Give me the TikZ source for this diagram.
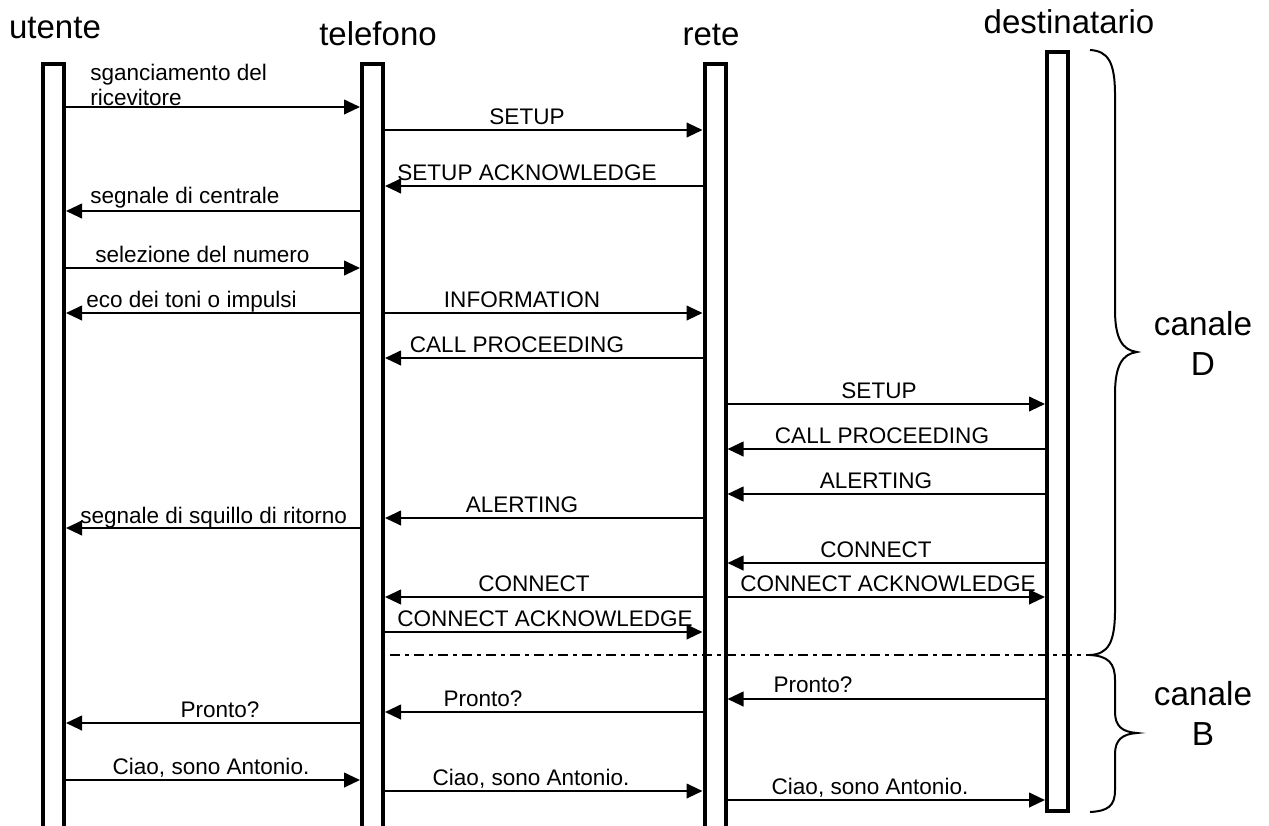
\documentclass[tikz,border=0pt]{standalone}
\usepackage{fontspec}
\setmainfont{Liberation Sans}
\usetikzlibrary{arrows.meta}

\begin{document}
\begin{tikzpicture}[
    x=0.75pt, y=-0.75pt,
    bar/.style={
      draw, line width=3pt, anchor=north, inner sep=0pt,
      minimum width=15.75pt
    },
    actor/.style={anchor=base, inner sep=0pt, font=\fontsize{24.75}{28}\selectfont},
    msg/.style={-{Triangle[length=12pt,width=11pt]}, line width=1.5pt},
    lbl/.style={anchor=base, inner sep=0pt, font=\fontsize{16.9}{18.75}\selectfont},
    lblleft/.style={lbl, anchor=base west, align=left},
    channel/.style={anchor=base, align=center, inner sep=0pt,
      font=\fontsize{25}{30}\selectfont},
    brace/.style={line width=1.5pt},
  ]
  \useasboundingbox (0,0) rectangle (1269,825);

  %% Lifelines
  \node[bar, minimum height=600pt] (ute) at (53.5,62) {};
  \node[bar, minimum height=600pt] (tel) at (372.5,62) {};
  \node[bar, minimum height=600pt] (rete) at (715,62) {};
  \node[bar, minimum height=569pt] (dest) at (1057.5,50) {};

  %% Actors
  \node[actor] (aUte) at (55,38) {utente};
  \node[actor] (aTel) at (378,45) {telefono};
  \node[actor] (aRete) at (711,45) {rete};
  \node[actor] (aDest) at (1069,33) {destinatario};

  %% Call setup (canale D)
  \draw[msg] (ute.east |- 0,107) -- (tel.west |- 0,107);
  \node[lblleft] (m1) at (90,105) {sganciamento del\\ricevitore};
  \draw[msg] (tel.east |- 0,130) -- (rete.west |- 0,130);
  \node[lbl] (m2) at (527,124.5) {SETUP};
  \draw[msg] (rete.west |- 0,186) -- (tel.east |- 0,186);
  \node[lbl] (m3) at (527,180.5) {SETUP ACKNOWLEDGE};
  \draw[msg] (tel.west |- 0,211) -- (ute.east |- 0,211);
  \node[lblleft] (m4) at (90,203) {segnale di centrale};
  \draw[msg] (ute.east |- 0,268) -- (tel.west |- 0,268);
  \node[lblleft] (m5) at (95,262) {selezione del numero};
  \draw[msg] (tel.west |- 0,313) -- (ute.east |- 0,313);
  \node[lblleft] (m6) at (86,307) {eco dei toni o impulsi};
  \draw[msg] (tel.east |- 0,313) -- (rete.west |- 0,313);
  \node[lbl] (m7) at (522,307.5) {INFORMATION};
  \draw[msg] (rete.west |- 0,358) -- (tel.east |- 0,358);
  \node[lbl] (m8) at (517,352.5) {CALL PROCEEDING};
  \draw[msg] (rete.east |- 0,404) -- (dest.west |- 0,404);
  \node[lbl] (m9) at (879,398.5) {SETUP};
  \draw[msg] (dest.west |- 0,449) -- (rete.east |- 0,449);
  \node[lbl] (m10) at (882,443.5) {CALL PROCEEDING};
  \draw[msg] (dest.west |- 0,494) -- (rete.east |- 0,494);
  \node[lbl] (m11) at (876,488.5) {ALERTING};
  \draw[msg] (rete.west |- 0,518) -- (tel.east |- 0,518);
  \node[lbl] (m12) at (522,512.5) {ALERTING};
  \draw[msg] (tel.west |- 0,528) -- (ute.east |- 0,528);
  \node[lblleft] (m13) at (80,523) {segnale di squillo di ritorno};
  \draw[msg] (dest.west |- 0,563) -- (rete.east |- 0,563);
  \node[lbl] (m14) at (876,557.5) {CONNECT};
  \draw[msg] (rete.west |- 0,597) -- (tel.east |- 0,597);
  \node[lbl] (m15) at (534,591.5) {CONNECT};
  \draw[msg] (rete.east |- 0,597) -- (dest.west |- 0,597);
  \node[lbl] (m16) at (888,591.5) {CONNECT ACKNOWLEDGE};
  \draw[msg] (tel.east |- 0,632) -- (rete.west |- 0,632);
  \node[lbl] (m17) at (545,626.5) {CONNECT ACKNOWLEDGE};

  %% Channel split
  \coordinate (dTop) at (1090,50);
  \coordinate (split) at (1090,655);
  \coordinate (bBot) at (1090,812);
  \draw[line width=2.2pt, dash pattern=on 7.5pt off 3.75pt on 3pt off 3.75pt]
    ([xshift=4pt]tel.east |- split) -- (split);

  %% Conversation (canale B)
  \draw[msg] (dest.west |- 0,699) -- (rete.east |- 0,699);
  \node[lbl] (m18) at (813,692) {Pronto?};
  \draw[msg] (rete.west |- 0,712) -- (tel.east |- 0,712);
  \node[lbl] (m19) at (483,706.5) {Pronto?};
  \draw[msg] (tel.west |- 0,723) -- (ute.east |- 0,723);
  \node[lbl] (m20) at (220,717.5) {Pronto?};
  \draw[msg] (ute.east |- 0,780) -- (tel.west |- 0,780);
  \node[lbl] (m21) at (211,774.5) {Ciao, sono Antonio.};
  \draw[msg] (tel.east |- 0,791) -- (rete.west |- 0,791);
  \node[lbl] (m22) at (531,785.5) {Ciao, sono Antonio.};
  \draw[msg] (rete.east |- 0,800) -- (dest.west |- 0,800);
  \node[lbl] (m23) at (870,794.5) {Ciao, sono Antonio.};

  %% Braces
  \draw[brace] (dTop) .. controls (1108,51) and (1115,62) .. (1115,95)
    -- (1115,310) .. controls (1115,338) and (1122,350) .. (1137,352)
    .. controls (1122,354) and (1115,366) .. (1115,394)
    -- (1115,610) .. controls (1115,643) and (1108,654) .. (split);
  \draw[brace] (split) .. controls (1108,656) and (1115,663) .. (1115,680)
    -- (1115,712) .. controls (1115,726) and (1122,732) .. (1137,733)
    .. controls (1122,734) and (1115,740) .. (1115,754)
    -- (1115,790) .. controls (1115,806) and (1108,811) .. (bBot);
  \node[channel] (chD) at (1203,375) {canale\\D};
  \node[channel] (chB) at (1203,745) {canale\\B};

\end{tikzpicture}
\end{document}
